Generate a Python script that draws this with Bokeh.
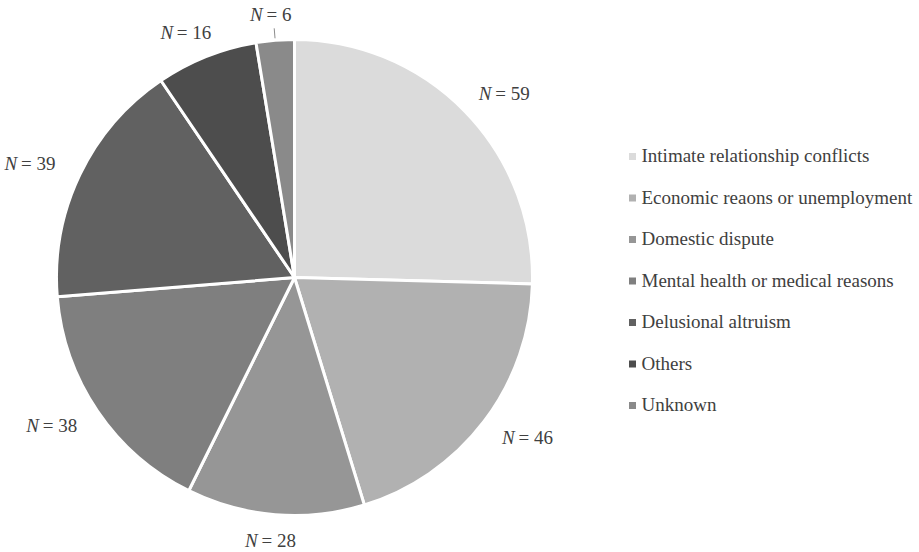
import math
from bokeh.plotting import figure
from bokeh.models import ColumnDataSource, Range1d
from bokeh.core.properties import value
from bokeh.embed import file_html
from bokeh.resources import INLINE

# Motives and case counts
categories = [
    "Intimate relationship conflicts",
    "Economic reaons or unemployment",
    "Domestic dispute",
    "Mental health or medical reasons",
    "Delusional altruism",
    "Others",
    "Unknown",
]
counts = [59, 46, 28, 38, 39, 16, 6]
colors = ["#dbdbdb", "#b1b1b1", "#969696", "#7f7f7f", "#616161", "#4d4d4d", "#8a8a8a"]

W, H = 919, 552
FONT = "Liberation Serif"
TEXT_COLOR = "#404040"

p = figure(width=W, height=H, output_backend="svg", toolbar_location=None,
           x_range=Range1d(0, W), y_range=Range1d(0, H), min_border=0)
p.axis.visible = False
p.grid.visible = False
p.outline_line_color = None
p.background_fill_color = "white"
p.border_fill_color = "white"

cx, cy, r = 294, 275, 238

# wedges run clockwise from twelve o'clock
total = sum(counts)
starts, ends, mids = [], [], []
acc = 0.0
for c in counts:
    a0 = math.pi / 2 - 2 * math.pi * acc / total
    acc += c
    a1 = math.pi / 2 - 2 * math.pi * acc / total
    starts.append(a1)
    ends.append(a0)
    mids.append((a0 + a1) / 2)

src = ColumnDataSource(dict(start=starts, end=ends, color=colors))
p.wedge(x=cx, y=cy, radius=r, start_angle="start", end_angle="end",
        fill_color="color", line_color="white", line_width=3, source=src)

# outside-end data labels "N = value"; the label box is wider than tall,
# so the horizontal push-out is larger than the vertical one
fs = 19
gap, box_w, box_h = 20, 35, 6
lx = [cx + (r + gap + box_w) * math.cos(m) for m in mids]
ly = [cy + (r + gap + box_h) * math.sin(m) for m in mids]

split = [lx[i] - (13 if counts[i] >= 10 else 8) for i in range(len(counts))]
p.text(x=split, y=ly, text=["N"] * len(counts), text_align="right",
       text_baseline="middle", text_font=value(FONT), text_font_style="italic",
       text_font_size=f"{fs}px", text_color=TEXT_COLOR)
p.text(x=split, y=ly, text=[f"\u2009= {c}" for c in counts], text_align="left",
       text_baseline="middle", text_font=value(FONT),
       text_font_size=f"{fs}px", text_color=TEXT_COLOR)

# leader line for the smallest slice
i_small = counts.index(min(counts))
m = mids[i_small]
p.segment(x0=[cx + (r + 2) * math.cos(m)], y0=[cy + (r + 2) * math.sin(m)],
          x1=[cx + (r + 12) * math.cos(m)], y1=[cy + (r + 12) * math.sin(m)],
          line_color="#8c8c8c", line_width=1)

# legend
leg_x, leg_top, leg_step = 632, H - 155, 41.5
ys = [leg_top - i * leg_step for i in range(len(categories))]
p.rect(x=[leg_x] * len(categories), y=[y - 1 for y in ys], width=7, height=7,
       fill_color=colors, line_color=None)
p.text(x=[leg_x + 9] * len(categories), y=ys, text=categories,
       text_align="left", text_baseline="middle", text_font=value(FONT),
       text_font_size=f"{fs}px", text_color=TEXT_COLOR)

open("out.html", "w").write(file_html(p, INLINE))
